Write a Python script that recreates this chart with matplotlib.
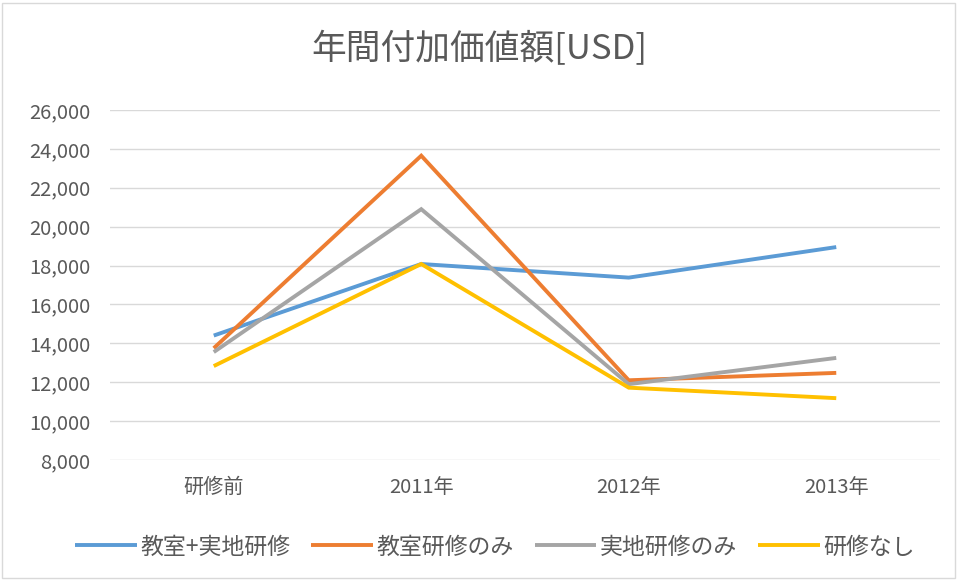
import matplotlib
matplotlib.use("Agg")
import matplotlib.pyplot as plt
from matplotlib.patches import Rectangle
from matplotlib.ticker import FuncFormatter

plt.rcParams['font.family'] = ['Noto Sans CJK JP', 'DejaVu Sans']

categories = ["研修前", "2011年", "2012年", "2013年"]
series_names = ["教室+実地研修", "教室研修のみ", "実地研修のみ", "研修なし"]
classroom_field = [14400, 18080, 17380, 18950]
classroom_only = [13750, 23650, 12100, 12480]
field_only = [13550, 20900, 11900, 13250]
no_training = [12830, 18080, 11720, 11180]
colors = ["#5B9BD5", "#ED7D31", "#A5A5A5", "#FFC000"]
yticks = list(range(8000, 26001, 2000))

fig = plt.figure(figsize=(9.58, 5.8), dpi=100)
ax = fig.add_axes([110/958, 1-460/580, 830/958, 350/580])

x = list(range(len(categories)))
for vals, name, c in zip([classroom_field, classroom_only, field_only, no_training], series_names, colors):
    ax.plot(x, vals, color=c, lw=2.8, label=name, solid_capstyle='butt', solid_joinstyle='miter')

ax.set_xlim(-0.5, 3.5)
ax.set_ylim(8000, 26000)
ax.set_yticks(yticks)
ax.yaxis.set_major_formatter(FuncFormatter(lambda v, p: f"{int(v):,}"))
ax.set_xticks(x)
ax.set_xticklabels(categories)
ax.grid(axis='y', color='#D9D9D9', lw=1)
ax.set_axisbelow(True)
for s in ax.spines.values():
    s.set_visible(False)
ax.tick_params(axis='both', length=0, labelsize=14.5, colors='#595959')
ax.tick_params(axis='y', pad=14)
ax.tick_params(axis='x', pad=12)

fig.text(0.5, 1-50/580, "年間付加価値額[USD]", ha='center', va='center', fontsize=25, color='#595959')

leg = fig.legend(loc='center', bbox_to_anchor=(495/958, 1-547/580), ncol=4, frameon=False,
                 fontsize=16.5, handlelength=2.7, columnspacing=0.9, handletextpad=0.15)
for t in leg.get_texts():
    t.set_color('#595959')

fig.patches.append(Rectangle((2/958, 2/580), 953/958, 575/580, transform=fig.transFigure,
                             fill=False, edgecolor='#D9D9D9', lw=1))

fig.savefig("out.png", dpi=100)
